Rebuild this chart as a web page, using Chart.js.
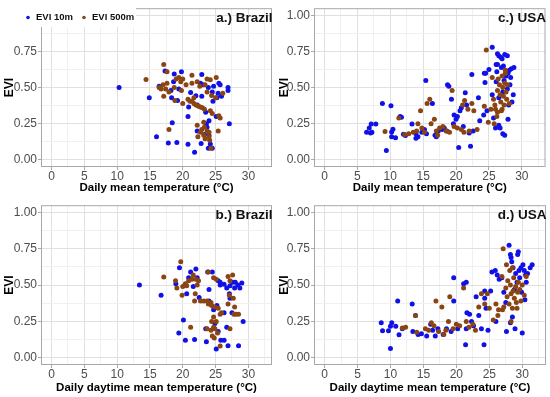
<!DOCTYPE html>
<html>
<head>
<meta charset="utf-8">
<script src="https://cdn.jsdelivr.net/npm/chart.js@4.4.0/dist/chart.umd.min.js"></script>
<style>
  html, body { margin: 0; padding: 0; background: #fff; }
  #wrap { position: relative; width: 550px; height: 397px; overflow: hidden; }
  .panel { position: absolute; }
</style>
</head>
<body>
<div id="wrap">
  <div class="panel" style="left:0;top:0"><canvas id="pa" width="275" height="197"></canvas></div>
  <div class="panel" style="left:275px;top:0"><canvas id="pc" width="275" height="197"></canvas></div>
  <div class="panel" style="left:0;top:197px"><canvas id="pb" width="275" height="200"></canvas></div>
  <div class="panel" style="left:275px;top:197px"><canvas id="pd" width="275" height="200"></canvas></div>
</div>
<script>
// tick positions (majors every 5 / 0.25, minors halfway)
const xTickValues = [0, 2.5, 5, 7.5, 10, 12.5, 15, 17.5, 20, 22.5, 25, 27.5, 30, 32.5];
const xMajor = [0, 5, 10, 15, 20, 25, 30];
const yTickValues = [0, 0.125, 0.25, 0.375, 0.5, 0.625, 0.75, 0.875, 1];
const yMajor = [0, 0.25, 0.5, 0.75, 1];

const seriesNames = ['EVI 10m', 'EVI 500m'];
const seriesColors = ['#1010e8', '#8b4513'];

// [temperature, EVI]
const brazilMean10m = [[10.3,0.50],[14.9,0.43],[16.0,0.16],[16.4,0.51],[17.3,0.615],[17.8,0.117],[18.4,0.257],[18.7,0.595],[18.2,0.48],[19.1,0.12],[19.8,0.61],[19.4,0.49],[18.3,0.43],[19.2,0.41],[18.6,0.54],[20.8,0.108],[21.2,0.466],[20.9,0.365],[20.8,0.30],[21.8,0.052],[22.2,0.20],[22.9,0.59],[22.7,0.53],[23.1,0.52],[22.9,0.44],[22.8,0.113],[23.3,0.175],[23.7,0.225],[23.5,0.33],[23.9,0.50],[24.7,0.51],[24.5,0.47],[24.6,0.405],[25.5,0.53],[25.7,0.52],[25.4,0.46],[25.1,0.30],[24.5,0.08],[24.2,0.11],[26.9,0.50],[26.9,0.48],[27.1,0.25],[23.6,0.25],[24.0,0.27],[22.0,0.443],[22.2,0.38],[24.0,0.17],[23.9,0.08],[25.9,0.44],[25.2,0.43]];
const brazilMean500m = [[14.4,0.556],[17.1,0.66],[17.6,0.61],[17.1,0.44],[17.9,0.21],[16.4,0.50],[16.7,0.49],[17.0,0.52],[17.4,0.49],[17.6,0.53],[17.9,0.47],[18.7,0.50],[19.0,0.56],[19.4,0.57],[19.7,0.54],[20.0,0.56],[18.8,0.41],[20.0,0.39],[20.5,0.52],[21.4,0.53],[21.4,0.585],[22.2,0.54],[20.8,0.42],[21.1,0.405],[21.4,0.405],[21.7,0.39],[22.0,0.38],[22.4,0.37],[22.7,0.365],[23.0,0.36],[23.3,0.35],[23.7,0.56],[24.2,0.555],[25.1,0.57],[23.7,0.47],[24.4,0.445],[25.0,0.43],[26.1,0.46],[24.2,0.34],[24.5,0.32],[25.5,0.305],[25.7,0.29],[23.2,0.26],[23.3,0.225],[22.9,0.21],[23.7,0.20],[24.0,0.19],[22.7,0.19],[23.2,0.17],[24.0,0.16],[24.1,0.135],[23.4,0.146],[25.4,0.20],[22.3,0.16],[22.2,0.24],[24.3,0.08],[21.7,0.43],[23.4,0.52],[22.6,0.51],[19.8,0.48]];

const usaMean10m = [[6.4,0.19],[7.2,0.19],[6.8,0.22],[7.1,0.248],[7.8,0.248],[7.0,0.185],[8.8,0.39],[10.1,0.374],[9.4,0.065],[10.2,0.193],[10.4,0.212],[10.2,0.16],[10.8,0.153],[11.5,0.30],[11.7,0.295],[12.0,0.176],[12.3,0.169],[13.3,0.248],[13.9,0.18],[13.9,0.15],[14.2,0.16],[14.8,0.19],[15.4,0.55],[15.5,0.18],[15.2,0.21],[16.4,0.39],[16.8,0.17],[17.0,0.16],[17.3,0.2],[17.9,0.21],[18.2,0.22],[18.6,0.20],[18.7,0.52],[18.9,0.51],[19.3,0.42],[19.6,0.25],[19.7,0.31],[20.0,0.28],[20.2,0.30],[20.4,0.085],[20.6,0.34],[20.8,0.36],[21.1,0.23],[21.4,0.465],[21.6,0.38],[22.0,0.185],[22.2,0.094],[22.4,0.59],[22.6,0.2],[23.4,0.43],[23.6,0.27],[24.2,0.31],[24.3,0.6],[24.5,0.6],[24.4,0.535],[24.7,0.34],[25.0,0.625],[25.5,0.78],[25.5,0.45],[25.7,0.29],[26.0,0.22],[26.1,0.66],[26.3,0.66],[26.2,0.61],[26.1,0.54],[26.3,0.735],[26.5,0.72],[26.8,0.71],[27.0,0.70],[27.4,0.73],[27.8,0.72],[26.5,0.43],[26.5,0.24],[26.7,0.22],[27.1,0.18],[27.4,0.17],[27.1,0.47],[27.3,0.55],[27.6,0.58],[27.9,0.28],[27.9,0.6],[28.1,0.62],[28.3,0.57],[28.5,0.40],[28.7,0.45],[28.4,0.63],[28.8,0.64],[28.2,0.52],[27.8,0.49],[28.0,0.38],[27.2,0.65],[26.9,0.64]];
const usaMean500m = [[9.2,0.196],[11.3,0.29],[12.2,0.175],[12.8,0.18],[13.5,0.19],[14.0,0.2],[14.2,0.25],[14.6,0.34],[14.8,0.22],[15.2,0.19],[15.6,0.39],[16.0,0.42],[16.2,0.25],[16.7,0.28],[17.0,0.2],[17.2,0.17],[17.5,0.22],[18.0,0.23],[18.5,0.2],[19.0,0.19],[19.4,0.48],[19.7,0.23],[20.2,0.22],[20.8,0.21],[21.0,0.38],[21.3,0.41],[21.2,0.19],[21.8,0.35],[22.0,0.2],[22.4,0.39],[22.7,0.34],[23.2,0.21],[24.3,0.37],[24.6,0.76],[24.9,0.26],[25.3,0.35],[25.5,0.57],[25.8,0.25],[25.7,0.42],[26.0,0.35],[26.2,0.30],[26.3,0.48],[26.4,0.56],[26.6,0.52],[26.7,0.45],[26.8,0.40],[26.9,0.34],[27.0,0.58],[27.1,0.50],[27.2,0.44],[27.3,0.38],[27.4,0.53],[27.5,0.60],[27.6,0.47],[27.7,0.42],[27.8,0.52],[27.0,0.35],[26.3,0.33],[25.9,0.38],[28.1,0.39],[27.5,0.62]];

const brazilDay10m = [[13.4,0.50],[16.7,0.43],[19.4,0.17],[19.5,0.62],[18.95,0.51],[20.1,0.26],[20.4,0.12],[21.8,0.125],[21.2,0.59],[22.0,0.61],[20.9,0.55],[22.2,0.55],[21.6,0.49],[20.6,0.44],[22.5,0.415],[23.8,0.59],[24.5,0.59],[24.0,0.47],[23.5,0.20],[23.6,0.11],[25.1,0.06],[25.8,0.12],[26.3,0.12],[26.9,0.083],[28.5,0.083],[26.7,0.21],[25.4,0.53],[25.7,0.52],[26.3,0.505],[26.7,0.48],[27.2,0.495],[27.6,0.52],[28.0,0.52],[28.4,0.50],[28.7,0.48],[29.0,0.515],[29.2,0.25],[27.9,0.48],[27.1,0.44],[27.2,0.41],[26.3,0.31],[27.5,0.31],[25.2,0.36],[24.7,0.33],[24.0,0.39],[25.7,0.50],[25.4,0.18],[24.9,0.235]];
const brazilDay500m = [[17.1,0.555],[19.7,0.66],[18.9,0.53],[19.1,0.48],[19.9,0.43],[20.0,0.49],[20.4,0.51],[20.6,0.495],[20.9,0.53],[21.4,0.54],[21.6,0.57],[22.0,0.54],[22.4,0.53],[21.2,0.21],[21.9,0.44],[21.8,0.39],[22.7,0.39],[23.2,0.39],[23.7,0.39],[23.9,0.37],[24.3,0.38],[24.4,0.36],[24.9,0.35],[25.4,0.34],[25.7,0.30],[25.9,0.31],[23.9,0.59],[24.7,0.55],[25.1,0.54],[26.9,0.56],[27.6,0.57],[27.2,0.53],[27.9,0.35],[28.5,0.30],[27.8,0.30],[24.7,0.28],[24.4,0.25],[25.1,0.25],[24.7,0.21],[24.9,0.20],[24.3,0.19],[25.3,0.17],[24.5,0.15],[24.8,0.135],[23.7,0.20],[25.7,0.08],[27.2,0.20],[27.1,0.43],[26.9,0.37],[27.7,0.41],[28.1,0.30],[22.2,0.50]];

const usaDay10m = [[8.6,0.24],[8.8,0.186],[9.7,0.186],[10.0,0.216],[10.2,0.24],[10.8,0.216],[10.0,0.063],[11.1,0.39],[11.3,0.158],[11.8,0.20],[13.3,0.37],[13.8,0.29],[13.4,0.18],[14.2,0.16],[14.7,0.165],[15.5,0.15],[16.1,0.23],[16.4,0.19],[16.8,0.15],[17.2,0.2],[18.0,0.16],[18.5,0.2],[19.6,0.55],[19.6,0.39],[19.2,0.18],[20.2,0.2],[21.1,0.51],[21.5,0.52],[21.4,0.09],[21.6,0.31],[21.5,0.2],[22.0,0.3],[22.3,0.25],[22.6,0.22],[23.0,0.42],[23.4,0.29],[23.8,0.2],[24.2,0.09],[24.3,0.41],[24.3,0.46],[24.5,0.34],[24.8,0.19],[25.2,0.46],[25.4,0.59],[25.9,0.6],[26.0,0.25],[26.2,0.57],[26.5,0.54],[26.9,0.55],[27.2,0.45],[27.5,0.38],[27.6,0.18],[28.0,0.775],[28.2,0.71],[28.3,0.69],[28.2,0.24],[28.4,0.66],[28.5,0.28],[28.6,0.62],[28.9,0.2],[29.0,0.58],[29.3,0.71],[29.4,0.73],[29.5,0.60],[29.6,0.55],[29.8,0.62],[30.0,0.17],[30.1,0.64],[30.3,0.6],[30.5,0.57],[30.4,0.40],[30.8,0.58],[31.2,0.62],[31.5,0.64],[29.2,0.52],[28.8,0.47],[29.9,0.45],[30.6,0.52]];
const usaDay500m = [[11.8,0.205],[12.3,0.21],[13.8,0.29],[14.0,0.175],[15.3,0.2],[15.8,0.19],[16.2,0.24],[16.6,0.22],[16.9,0.39],[17.3,0.18],[17.8,0.35],[18.1,0.16],[18.4,0.19],[18.8,0.25],[19.0,0.42],[19.5,0.2],[20.0,0.23],[20.5,0.22],[21.1,0.48],[21.5,0.25],[21.9,0.21],[22.5,0.23],[22.9,0.19],[23.4,0.35],[23.8,0.44],[24.3,0.37],[24.7,0.44],[25.0,0.34],[25.6,0.26],[26.0,0.37],[26.4,0.33],[26.9,0.56],[27.1,0.75],[27.2,0.35],[27.5,0.48],[27.7,0.42],[27.8,0.53],[28.0,0.37],[28.1,0.6],[28.2,0.5],[28.3,0.44],[28.5,0.34],[28.6,0.46],[28.7,0.55],[28.8,0.41],[29.0,0.49],[29.1,0.38],[29.3,0.45],[29.4,0.52],[29.6,0.47],[29.8,0.39],[30.0,0.5],[30.3,0.43],[30.6,0.56],[28.5,0.62],[28.3,0.25],[27.6,0.64],[29.2,0.34],[26.3,0.29],[27.0,0.33]];

Chart.defaults.font.family = '"Liberation Sans", Arial, sans-serif';
Chart.defaults.animation = false;

// panel border + corner label, drawn over the points like ggplot does
const frame = {
  id: 'frame',
  afterDatasetsDraw(chart, args, opts) {
    const { ctx, chartArea: a } = chart;
    ctx.save();
    ctx.strokeStyle = '#a8a8a8';
    ctx.lineWidth = 1;
    ctx.strokeRect(a.left + 0.5, a.top + 0.5, a.width - 1, a.height - 1);
    ctx.fillStyle = '#111';
    ctx.font = 'bold 13.5px "Liberation Sans", Arial, sans-serif';
    ctx.textAlign = 'right';
    ctx.textBaseline = 'middle';
    ctx.fillText(opts.label, a.right + 0.5, a.top + 10.5);
    ctx.restore();
  }
};

// the shared key sits over the top-left of panel a
const keyBox = {
  id: 'keyBox',
  afterDraw(chart, args, opts) {
    if (!opts.show) return;
    const ctx = chart.ctx;
    ctx.save();
    ctx.fillStyle = '#fff';
    ctx.fillRect(6, 8, 130, 19);
    ctx.font = 'bold 9.5px "Liberation Sans", Arial, sans-serif';
    ctx.textBaseline = 'middle';
    let x = 28;
    chart.data.datasets.forEach(ds => {
      ctx.fillStyle = ds.backgroundColor;
      ctx.beginPath();
      ctx.arc(x, 17.5, 1.8, 0, Math.PI * 2);
      ctx.fill();
      ctx.fillStyle = '#111';
      ctx.fillText(ds.label, x + 8, 17.5);
      x += 8 + ctx.measureText(ds.label).width + 11;
    });
    ctx.restore();
  }
};

function makePanel(id, label, xTitle, blue, brown, area, withKey) {
  const cv = document.getElementById(id);
  const W = cv.width, H = cv.height;
  const pts = arr => arr.map(p => ({ x: p[0], y: p[1] }));
  const gridColor = (majors) => c => majors.includes(c.tick.value) ? '#e0e0e0' : '#f0f0f0';
  const tickColor = (majors) => c => majors.includes(c.tick.value) ? '#a8a8a8' : 'rgba(0,0,0,0)';
  new Chart(cv, {
    type: 'scatter',
    data: {
      datasets: [
        { label: seriesNames[0], data: pts(blue), backgroundColor: seriesColors[0], order: 2 },
        { label: seriesNames[1], data: pts(brown), backgroundColor: seriesColors[1], order: 1 }
      ]
    },
    options: {
      responsive: false,
      layout: { padding: { top: area.top, right: W - area.right, left: 0, bottom: 0 } },
      elements: { point: { radius: 2.5, borderWidth: 0, hoverRadius: 2.5 } },
      plugins: {
        legend: { display: false },
        tooltip: { enabled: false },
        frame: { label: label },
        keyBox: { show: withKey }
      },
      scales: {
        x: {
          type: 'linear', min: -1.6, max: 33.6,
          afterBuildTicks: s => { s.ticks = xTickValues.map(v => ({ value: v })); },
          afterFit: s => { s.height = H - area.bottom; },
          border: { display: false },
          grid: { color: gridColor(xMajor), tickColor: tickColor(xMajor), tickLength: 3, lineWidth: 1 },
          ticks: {
            autoSkip: false, maxRotation: 0, padding: -1, color: '#4d4d4d', font: { size: 12 },
            callback: v => xMajor.includes(v) ? String(v) : ''
          },
          title: { display: true, text: xTitle, color: '#000', font: { size: 11.5, weight: 'bold' }, padding: { top: 0, bottom: 2 } }
        },
        y: {
          type: 'linear', min: -0.05, max: 1.05,
          afterBuildTicks: s => { s.ticks = yTickValues.map(v => ({ value: v })); },
          afterFit: s => { s.width = area.left; },
          border: { display: false },
          grid: { color: gridColor(yMajor), tickColor: tickColor(yMajor), tickLength: 3, lineWidth: 1 },
          ticks: {
            autoSkip: false, padding: 1, color: '#4d4d4d', font: { size: 12 },
            callback: v => yMajor.includes(v) ? v.toFixed(2) : ''
          },
          title: { display: true, text: 'EVI', color: '#000', font: { size: 12, weight: 'bold' }, padding: { top: 2, bottom: 0 } }
        }
      }
    },
    plugins: [frame, keyBox]
  });
}

makePanel('pa', 'a.) Brazil', 'Daily mean temperature (°C)', brazilMean10m, brazilMean500m,
  { left: 41, right: 272, top: 4, bottom: 167 }, true);
makePanel('pc', 'c.) USA', 'Daily mean temperature (°C)', usaMean10m, usaMean500m,
  { left: 39, right: 270.5, top: 4, bottom: 167 }, false);
makePanel('pb', 'b.) Brazil', 'Daily daytime mean temperature (°C)', brazilDay10m, brazilDay500m,
  { left: 41, right: 272, top: 5, bottom: 168 }, false);
makePanel('pd', 'd.) USA', 'Daily daytime mean temperature (°C)', usaDay10m, usaDay500m,
  { left: 39, right: 271, top: 5, bottom: 168 }, false);
</script>
</body>
</html>
